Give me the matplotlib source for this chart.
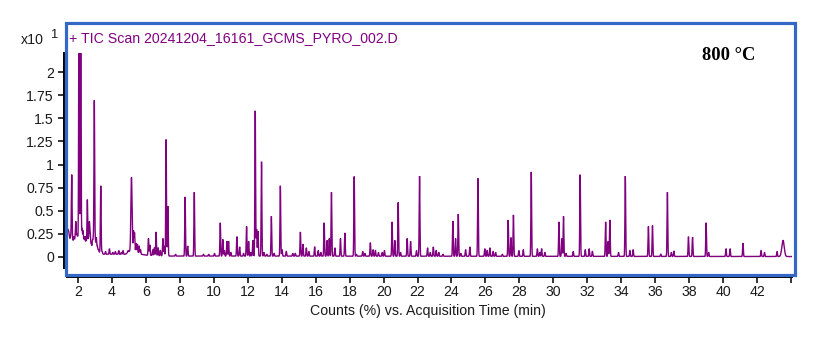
import numpy as np
import matplotlib
matplotlib.use("Agg")
import matplotlib.pyplot as plt
from matplotlib.patches import Rectangle

# ---------------- data ----------------
peak_rt = [1.40, 1.45, 1.52, 1.57, 1.63, 1.70, 1.76, 1.82, 1.87, 1.93, 1.98, 2.06, 2.16,
           2.24, 2.30, 2.36, 2.42, 2.48, 2.55, 2.62, 2.67, 2.72, 2.78, 2.85, 2.90, 2.96,
           3.02, 3.08, 3.14, 3.20, 3.34, 3.42, 3.62, 3.85, 4.05, 4.20, 4.40, 4.55, 4.65,
           4.95, 5.15, 5.27, 5.33, 5.42, 5.50, 5.60, 5.68, 6.15, 6.23, 6.40, 6.50, 6.60,
           6.72, 6.85, 7.00, 7.08, 7.19, 7.29, 7.75, 8.31, 8.46, 8.85, 9.39, 9.70, 10.04,
           10.38, 10.53, 10.62, 10.77, 10.87, 11.00, 11.36, 11.52, 11.75, 11.93, 12.05,
           12.18, 12.30, 12.44, 12.52, 12.60, 12.81, 12.95, 13.12, 13.39, 13.55, 13.92,
           14.02, 14.27, 14.65, 14.80, 15.10, 15.25, 15.45, 15.60, 15.94, 16.15, 16.30,
           16.50, 16.67, 16.80, 16.93, 17.13, 17.46, 17.72, 18.27, 18.40, 18.77, 18.90,
           19.22, 19.38, 19.52, 19.70, 19.92, 20.05, 20.50, 20.66, 20.86, 21.00, 21.39,
           21.59, 21.94, 22.12, 22.59, 22.75, 22.93, 23.10, 23.25, 23.50, 24.08, 24.24,
           24.40, 24.55, 24.83, 25.08, 25.56, 25.96, 26.10, 26.26, 26.45, 26.60, 27.00,
           27.34, 27.50, 27.65, 27.97, 28.23, 28.70, 29.06, 29.20, 29.31, 29.50, 30.33,
           30.50, 30.60, 30.75, 31.17, 31.58, 31.88, 32.11, 32.30, 33.08, 33.23, 33.33,
           33.84, 34.24, 34.51, 34.70, 35.60, 35.84, 36.33, 36.72, 36.95, 37.10, 37.96,
           38.20, 39.00, 39.15, 40.17, 40.41, 41.17, 42.24, 42.44, 43.18, 43.53]
peak_height = [0.30, 0.28, 0.20, 0.22, 0.89, 0.18, 0.22, 0.20, 0.38, 0.24, 0.22, 3.00, 2.80,
               0.31, 0.28, 0.20, 0.22, 0.18, 0.62, 0.20, 0.37, 0.25, 0.15, 0.18, 0.20, 1.69,
               0.18, 0.21, 0.12, 0.08, 0.77, 0.06, 0.06, 0.09, 0.05, 0.06, 0.07, 0.05, 0.07,
               0.07, 0.86, 0.28, 0.26, 0.15, 0.14, 0.12, 0.08, 0.20, 0.13, 0.08, 0.10, 0.27,
               0.10, 0.07, 0.20, 0.12, 1.27, 0.55, 0.03, 0.65, 0.12, 0.70, 0.03, 0.03, 0.04,
               0.37, 0.19, 0.07, 0.17, 0.17, 0.05, 0.22, 0.11, 0.04, 0.33, 0.17,
               0.05, 0.18, 1.58, 0.30, 0.28, 1.03, 0.05, 0.03, 0.44, 0.04, 0.77,
               0.08, 0.06, 0.04, 0.04, 0.27, 0.14, 0.10, 0.06, 0.11, 0.07, 0.05,
               0.37, 0.18, 0.20, 0.70, 0.10, 0.20, 0.26, 0.87, 0.03, 0.06, 0.04,
               0.155, 0.08, 0.07, 0.05, 0.05, 0.07, 0.38, 0.18, 0.59, 0.05, 0.20,
               0.17, 0.07, 0.875, 0.10, 0.05, 0.11, 0.07, 0.05, 0.03, 0.39, 0.20,
               0.465, 0.04, 0.08, 0.11, 0.85, 0.09, 0.07, 0.10, 0.06, 0.05, 0.03,
               0.40, 0.21, 0.455, 0.07, 0.08, 0.92, 0.09, 0.05, 0.09, 0.05, 0.38,
               0.20, 0.44, 0.04, 0.06, 0.89, 0.08, 0.09, 0.06, 0.38, 0.17, 0.40,
               0.05, 0.875, 0.07, 0.08, 0.33, 0.34, 0.03, 0.70, 0.05, 0.065, 0.22,
               0.215, 0.37, 0.05, 0.09, 0.09, 0.15, 0.07, 0.05, 0.06, 0.18]
broad_rt = [5.15, 43.53]
broad_sigma = [0.035, 0.07]

base_t = [1.37, 1.50, 1.70, 2.00, 2.30, 2.60, 2.90, 3.20, 3.50, 4.00, 4.80, 5.00, 5.10,
          5.70, 6.00, 7.50, 12.0, 44.1]
base_v = [0.30, 0.22, 0.15, 0.15, 0.12, 0.10, 0.08, 0.06, 0.03, 0.03, 0.03, 0.06, 0.06,
          0.03, 0.02, 0.01, 0.01, 0.005]

x_ticks = list(range(2, 46, 2))
x_tick_labels = [str(v) for v in range(2, 44, 2)] + [""]
y_ticks = [0, 0.25, 0.5, 0.75, 1, 1.25, 1.5, 1.75, 2]
y_tick_labels = ["0", "0.25", "0.5", "0.75", "1", "1.25", "1.5", "1.75", "2"]

title = "+ TIC Scan 20241204_16161_GCMS_PYRO_002.D"
x_label = "Counts (%) vs. Acquisition Time (min)"
temp_label = "800 \u00b0C"

# ---------------- build trace ----------------
t = np.arange(1.37, 44.1, 0.002)
base = np.interp(t, base_t, base_v)
signal = base.copy()
for rt, h in zip(peak_rt, peak_height):
    s = 0.021
    if rt in broad_rt:
        s = broad_sigma[broad_rt.index(rt)]
    amp = h - np.interp(rt, base_t, base_v)
    signal += amp * np.exp(-0.5 * ((t - rt) / s) ** 2)

# ---------------- figure ----------------
plt.rcParams["font.family"] = ["Liberation Sans", "DejaVu Sans"]
FS = 10.2
W, H = 826, 346
fig = plt.figure(figsize=(W / 100, H / 100), dpi=100)


def fx(px):
    return px / W


def fy(py):
    return 1 - py / H


ax_l, ax_r, ax_t, ax_b = 63.5, 792.0, 53.0, 277.0
ax = fig.add_axes([fx(ax_l), fy(ax_b), (ax_r - ax_l) / W, (ax_b - ax_t) / H])

ppm = 16.976
ax.set_xlim(2 - (78 - ax_l) / ppm, 2 + (ax_r - 78) / ppm)
ppu = 92.5
ax.set_ylim(-(ax_b - 257) / ppu, (257 - ax_t) / ppu)

ax.plot(t, signal, color="#800080", lw=1.0, solid_joinstyle="miter")

for sp in ("top", "right"):
    ax.spines[sp].set_visible(False)
ax.spines["left"].set_bounds(-(268 - 257) / ppu, (257 - ax_t) / ppu)
ax.spines["bottom"].set_bounds(2 - (78 - 67) / ppm, 2 + (ax_r - 78) / ppm)
for sp in ("left", "bottom"):
    ax.spines[sp].set_linewidth(1.4)
    ax.spines[sp].set_color("black")

ax.set_xticks(x_ticks)
ax.set_xticklabels(x_tick_labels)
ax.set_yticks(y_ticks)
ax.set_yticklabels(y_tick_labels)
ax.tick_params(axis="both", direction="out", length=4, width=1.1, colors="black",
               labelcolor="#1a1a1a", labelsize=FS)
ax.tick_params(axis="x", pad=2.0)
ax.tick_params(axis="y", pad=3.0)

ax.set_xlabel(x_label, fontsize=FS, color="#1a1a1a", labelpad=3)

# header texts
fig.text(fx(69), fy(38.5), title, color="#800080", fontsize=FS, va="center", ha="left")
fig.text(fx(44), fy(40.5), "x10", color="#1a1a1a", fontsize=FS, va="center", ha="right")
fig.text(fx(50), fy(35.5), "1", color="#1a1a1a", fontsize=FS - 0.8, va="center", ha="left")
fig.text(fx(728.5), fy(55), temp_label, color="black", fontsize=13.3, fontweight="bold",
         family=["Liberation Serif", "DejaVu Serif"], va="center", ha="center")

# blue frame
rect = Rectangle((fx(65.5), fy(274.5)), (795 - 65.5) / W, (274.5 - 22.5) / H,
                 transform=fig.transFigure, fill=False, edgecolor="#3468C6",
                 linewidth=2.3, zorder=10)
fig.add_artist(rect)

fig.savefig("out.png", dpi=100)
